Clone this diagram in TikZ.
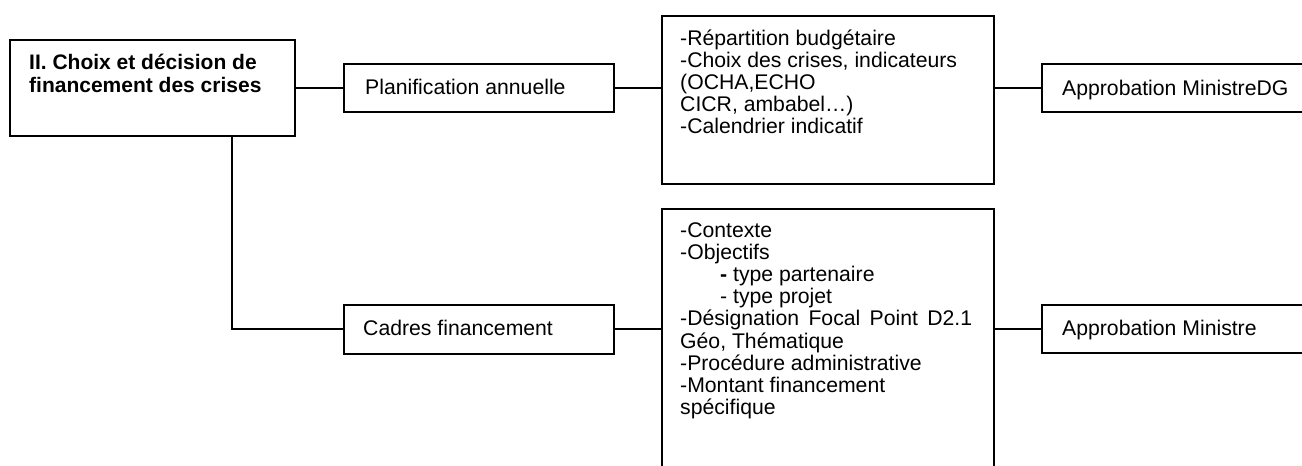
\documentclass[tikz,border=0pt]{standalone}
\usepackage{fontspec}
\setmainfont{Liberation Sans}
\begin{document}
\begin{tikzpicture}[x=1pt,y=-1pt,
  boxline/.style={draw=black,line width=2pt,fill=white},
  conn/.style={draw=black,line width=2pt},
  txt/.style={inner sep=0pt,anchor=base west,font=\fontsize{21.2}{22.2}\selectfont},
  ttl/.style={inner sep=0pt,anchor=base west,font=\fontsize{21}{23.5}\selectfont\bfseries}]
\useasboundingbox (0,0) rectangle (1302,466);
\begin{scope}
\clip (0,0) rectangle (1302,466);
% boxes
\draw[boxline] (9.5,39.5) rectangle (295,135.5);
\node[inner sep=0pt,minimum width=285.5pt,minimum height=96pt,anchor=north west] (main) at (9.5,39.5) {};
\node[boxline,inner sep=0pt,minimum width=270pt,minimum height=48pt,anchor=north west] (plan) at (343,63) {};
\node[boxline,inner sep=0pt,minimum width=270pt,minimum height=48.5pt,anchor=north west] (cadr) at (343,304) {};
\node[boxline,inner sep=0pt,minimum width=332.5pt,minimum height=168pt,anchor=north west] (mid1) at (660.5,15) {};
\node[boxline,inner sep=0pt,minimum width=332.5pt,minimum height=280pt,anchor=north west] (mid2) at (660.5,208) {};
\node[boxline,inner sep=0pt,minimum width=275pt,minimum height=48pt,anchor=north west] (app1) at (1041,63) {};
\node[boxline,inner sep=0pt,minimum width=275pt,minimum height=48pt,anchor=north west] (app2) at (1041,304) {};
\coordinate (c1) at (232,135.5);
\coordinate (c2) at (c1 |- cadr.west);
% connectors
\draw[conn] (main.east |- plan.west) -- (plan.west);
\draw[conn,line join=miter] (c1) -- (c2) -- (cadr.west);
\draw[conn] (plan.east) -- (plan.east -| mid1.west);
\draw[conn] (cadr.east) -- (cadr.east -| mid2.west);
\draw[conn] (mid1.east |- app1.west) -- (app1.west);
\draw[conn] (mid2.east |- app2.west) -- (app2.west);
% texts
\node[ttl] (tmain) at (29,69) {\parbox[t]{270pt}{II. Choix et décision de\\financement des crises}};
\node[txt] (tplan) at (365,94) {Planification annuelle};
\node[txt] (tcadr) at (363,335) {Cadres financement};
\node[txt] (tapp1) at (1062,95) {Approbation MinistreDG};
\node[txt] (tapp2) at (1062,335) {Approbation Ministre};
\node[txt] (tmid1) at (680,45) {\parbox[t]{310pt}{-Répartition budgétaire\\-Choix des crises, indicateurs\\(OCHA,ECHO\\CICR, ambabel…)\\-Calendrier indicatif}};
\node[txt] (tmid2) at (680,237) {\parbox[t]{310pt}{-Contexte\\-Objectifs\\\hspace*{40pt}{\bfseries -} type partenaire\\\hspace*{40pt}- type projet\\\makebox[292pt][s]{-Désignation Focal Point D2.1}\\Géo, Thématique\\-Procédure administrative\\-Montant financement\\spécifique}};
\end{scope}
\end{tikzpicture}
\end{document}
